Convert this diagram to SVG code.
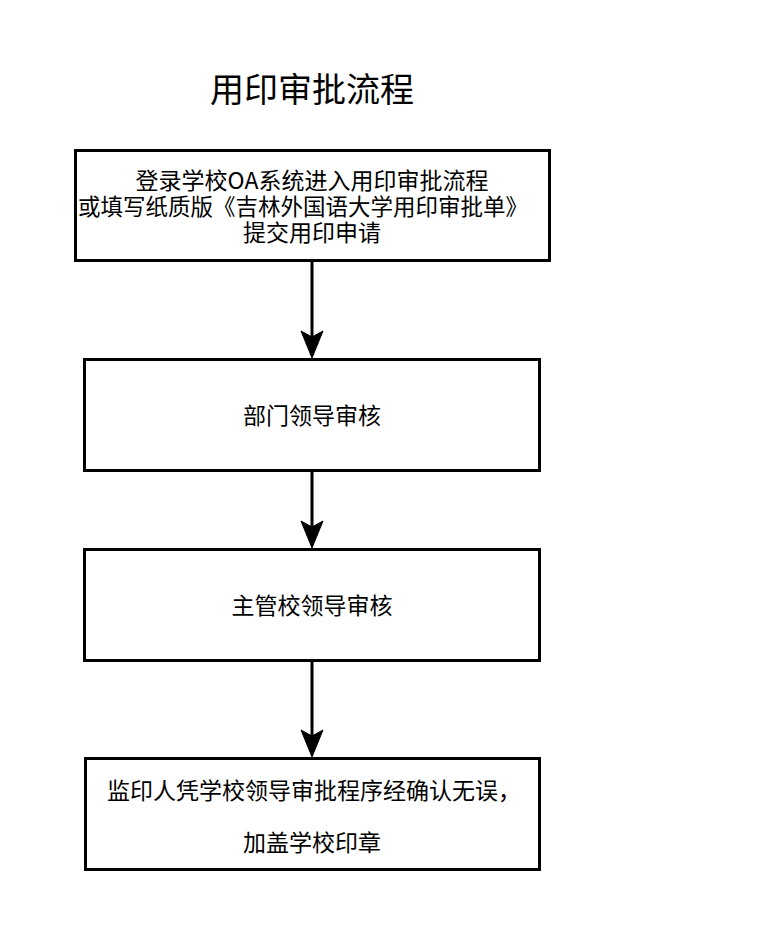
<svg xmlns="http://www.w3.org/2000/svg" width="783" height="948" viewBox="0 0 783 948">
<defs>
<style>
.box{fill:#fff;stroke:#000;stroke-width:3}
.t{font-family:"Noto Sans CJK SC","Noto Sans",sans-serif;font-size:23px;fill:#000;text-anchor:middle}
.title{font-family:"Noto Sans CJK SC","Noto Sans",sans-serif;font-size:34px;fill:#000;text-anchor:middle}
.ln{stroke:#000;stroke-width:3;fill:none}
.ah{fill:#000;stroke:#000;stroke-width:1}
</style>
</defs>
<rect width="783" height="948" fill="#fff"/>
<text class="title" x="312" y="102">用印审批流程</text>
<g id="connectors">
<line class="ln" x1="312" y1="262" x2="312" y2="345"/>
<path class="ah" d="M312,358 L301,331 L312,337 L323,331 Z"/>
<line class="ln" x1="312" y1="471" x2="312" y2="535"/>
<path class="ah" d="M312,548 L301,521 L312,527 L323,521 Z"/>
<line class="ln" x1="312" y1="661" x2="312" y2="744"/>
<path class="ah" d="M312,757 L301,730 L312,736 L323,730 Z"/>
</g>
<g id="node1">
<rect class="box" x="75.5" y="150.5" width="474" height="110"/>
<text class="t" x="312" y="189">登录学校OA系统进入用印审批流程</text>
<text class="t" x="303" y="215" style="font-size:22.5px">或填写纸质版《吉林外国语大学用印审批单》</text>
<text class="t" x="312" y="241">提交用印申请</text>
</g>
<g id="node2">
<rect class="box" x="84.5" y="359.5" width="455" height="111"/>
<text class="t" x="312" y="424">部门领导审核</text>
</g>
<g id="node3">
<rect class="box" x="84.5" y="549.5" width="455" height="111"/>
<text class="t" x="312" y="614">主管校领导审核</text>
</g>
<g id="node4">
<rect class="box" x="85.5" y="758.5" width="454" height="111"/>
<text class="t" x="314" y="799">监印人凭学校领导审批程序经确认无误，</text>
<text class="t" x="312" y="851">加盖学校印章</text>
</g>
</svg>
